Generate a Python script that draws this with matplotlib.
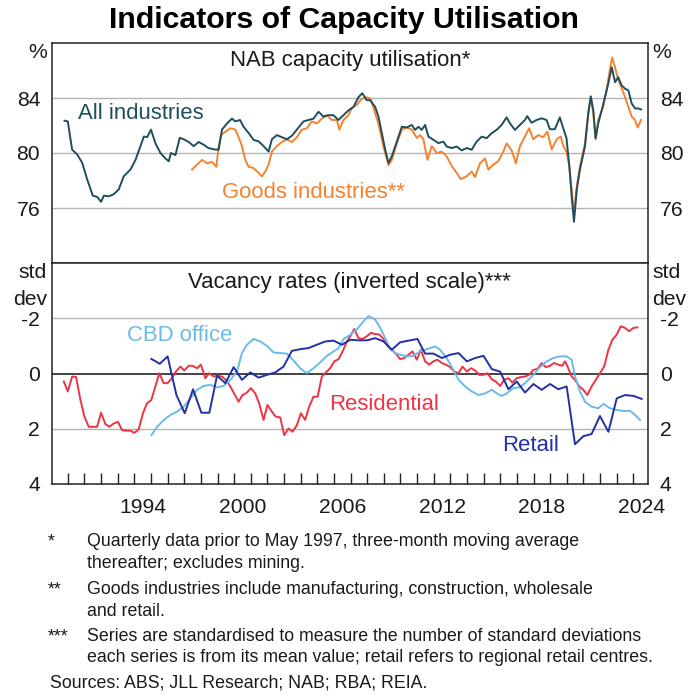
import matplotlib
matplotlib.use("Agg")
import matplotlib.pyplot as plt
from matplotlib.ticker import FixedLocator, NullFormatter

plt.rcParams["font.family"] = ["Liberation Sans", "DejaVu Sans"]

# ---------------------------------------------------------------------------
# Data
# ---------------------------------------------------------------------------

# NAB capacity utilisation, all industries (%)
all_years = [1989.8, 1990.0, 1990.26, 1990.56, 1990.86, 1991.16, 1991.5, 1991.77,
             1992.0, 1992.17, 1992.46, 1992.76, 1993.06, 1993.36, 1993.77, 1994.07,
             1994.37, 1994.57, 1994.77, 1995.0, 1995.27, 1995.57, 1995.87, 1996.07,
             1996.2, 1996.47, 1996.73, 1996.97, 1997.27, 1997.57, 1997.87, 1998.17,
             1998.47, 1998.87, 1999.07, 1999.27, 1999.57, 1999.87, 2000.07, 2000.35,
             2000.57, 2000.87, 2001.17, 2001.47, 2001.77, 2002.07, 2002.27, 2002.57,
             2002.87, 2003.17, 2003.47, 2003.77, 2004.17, 2004.47, 2004.77, 2005.07,
             2005.37, 2005.67, 2005.97, 2006.27, 2006.57, 2006.87, 2007.17, 2007.47,
             2007.7, 2007.96, 2008.18, 2008.48, 2008.68, 2008.88, 2009.08, 2009.28,
             2009.48, 2009.68, 2009.88, 2010.08, 2010.38, 2010.68, 2010.88, 2011.08,
             2011.28, 2011.48, 2011.68, 2011.98, 2012.28, 2012.58, 2012.78, 2013.08,
             2013.38, 2013.68, 2013.98, 2014.28, 2014.58, 2014.88, 2015.18, 2015.48,
             2015.78, 2016.08, 2016.38, 2016.58, 2016.88, 2017.18, 2017.48, 2017.62,
             2017.88, 2018.18, 2018.48, 2018.78, 2018.98, 2019.28, 2019.58, 2019.78,
             2019.98, 2020.15, 2020.29, 2020.43, 2020.6, 2020.79, 2021.09, 2021.29,
             2021.44, 2021.59, 2021.73, 2021.89, 2022.1, 2022.29, 2022.49, 2022.7,
             2022.9, 2023.09, 2023.3, 2023.5, 2023.7, 2023.9, 2024.1, 2024.3, 2024.46]
all_values = [82.35, 82.3, 80.24, 79.9, 79.3, 78.1, 76.9, 76.8,
              76.45, 76.9, 76.85, 77.0, 77.35, 78.3, 78.8, 79.5,
              80.5, 81.2, 81.15, 81.7, 80.7, 80.0, 79.6, 79.4,
              80.0, 79.85, 81.1, 81.0, 80.8, 80.5, 80.8, 80.6,
              80.35, 80.25, 80.25, 81.7, 82.15, 82.5, 82.3, 82.4,
              81.9, 81.45, 80.95, 80.85, 80.5, 80.1, 81.0, 81.3,
              81.15, 81.0, 81.25, 81.7, 82.3, 82.4, 82.5, 83.0,
              82.65, 82.75, 82.75, 82.4, 82.75, 83.1, 83.35, 84.05,
              84.35, 83.85, 83.83, 83.35, 82.63, 81.44, 80.24, 79.28,
              79.76, 80.47, 81.19, 81.91, 81.86, 82.04, 81.68, 81.91,
              81.68, 82.04, 81.19, 80.96, 80.72, 80.83, 80.47, 80.36,
              80.47, 80.19, 80.36, 80.24, 80.83, 81.19, 81.08, 81.44,
              81.68, 82.04, 82.59, 82.16, 81.68, 82.04, 82.4, 82.68,
              82.2, 82.4, 82.52, 82.4, 81.73, 81.73, 82.59, 81.8,
              81.08, 79.04, 76.88, 75.0, 77.36, 78.8, 80.47, 82.88,
              84.12, 83.12, 81.08, 82.16, 83.12, 84.07, 85.04, 86.23,
              85.15, 85.51, 84.91, 84.68, 84.55, 83.6, 83.24, 83.24, 83.17]

# NAB capacity utilisation, goods industries (%)
goods_years = [1997.47, 1997.77, 1998.07, 1998.37, 1998.67, 1998.93, 1999.07, 1999.21,
               1999.47, 1999.77, 2000.07, 2000.27, 2000.47, 2000.67, 2000.87, 2001.17,
               2001.47, 2001.67, 2001.87, 2002.07, 2002.27, 2002.57, 2002.87, 2003.17,
               2003.47, 2003.77, 2004.07, 2004.37, 2004.67, 2004.97, 2005.27, 2005.57,
               2005.87, 2006.17, 2006.33, 2006.57, 2006.87, 2007.07, 2007.37, 2007.67,
               2008.0, 2008.2, 2008.36, 2008.67, 2008.97, 2009.28, 2009.48, 2009.78,
               2010.08, 2010.38, 2010.68, 2010.98, 2011.18, 2011.38, 2011.62, 2011.88,
               2012.18, 2012.48, 2012.78, 2013.08, 2013.38, 2013.62, 2013.98, 2014.28,
               2014.48, 2014.78, 2015.08, 2015.28, 2015.58, 2015.88, 2016.18, 2016.38,
               2016.68, 2016.94, 2017.18, 2017.48, 2017.74, 2017.98, 2018.28, 2018.58,
               2018.83, 2019.09, 2019.39, 2019.63, 2019.79, 2019.98, 2020.15, 2020.29,
               2020.43, 2020.6, 2020.79, 2021.09, 2021.29, 2021.44, 2021.59, 2021.73,
               2021.89, 2022.18, 2022.39, 2022.59, 2022.73, 2022.9, 2023.1, 2023.3,
               2023.5, 2023.7, 2023.9, 2024.1, 2024.26, 2024.46]
goods_values = [78.8, 79.15, 79.5, 79.25, 79.35, 79.0, 80.5, 81.3,
                81.55, 81.8, 81.7, 81.15, 80.5, 79.5, 79.0, 78.9,
                78.55, 78.3, 78.65, 79.15, 80.1, 80.5, 80.8, 81.0,
                80.8, 81.15, 81.7, 81.8, 82.3, 82.15, 82.5, 82.75,
                82.4, 82.4, 81.7, 82.4, 82.75, 83.25, 83.5, 83.95,
                84.05, 83.95, 83.35, 82.15, 80.5, 79.1, 79.5, 80.7,
                81.7, 81.85, 81.7, 81.1, 81.3, 81.0, 79.5, 80.5,
                80.0, 80.1, 79.75, 79.05, 78.55, 78.1, 78.3, 78.65,
                78.25, 79.25, 79.6, 78.8, 79.15, 79.4, 80.1, 80.7,
                80.2, 79.25, 80.5, 81.2, 81.8, 81.0, 81.3, 81.15,
                81.55, 80.25, 81.0, 81.2, 80.5, 80.1, 79.05, 77.35,
                75.55, 77.6, 79.05, 80.7, 82.9, 84.05, 82.9, 81.0,
                82.4, 83.35, 84.55, 86.1, 86.95, 86.2, 85.3, 84.7,
                84.05, 83.35, 82.65, 82.4, 81.85, 82.4]

# Vacancy rates, standardised (std dev, inverted scale)
resid_years = [1989.76, 1990.0, 1990.26, 1990.5, 1990.76, 1991.0, 1991.26, 1991.5,
               1991.76, 1992.0, 1992.26, 1992.5, 1992.76, 1993.02, 1993.26, 1993.52,
               1993.76, 1994.0, 1994.26, 1994.52, 1994.76, 1995.02, 1995.26, 1995.5,
               1995.76, 1996.0, 1996.26, 1996.5, 1996.77, 1997.0, 1997.27, 1997.5,
               1997.77, 1998.0, 1998.27, 1998.5, 1998.77, 1999.0, 1999.27, 1999.5,
               1999.77, 2000.0, 2000.27, 2000.5, 2000.77, 2001.0, 2001.27, 2001.5,
               2001.77, 2002.0, 2002.27, 2002.5, 2002.77, 2003.01, 2003.27, 2003.51,
               2003.77, 2004.01, 2004.27, 2004.51, 2004.77, 2005.02, 2005.27, 2005.52,
               2005.77, 2006.02, 2006.28, 2006.52, 2006.78, 2006.98, 2007.22, 2007.48,
               2007.72, 2007.98, 2008.22, 2008.48, 2008.72, 2008.98, 2009.22, 2009.48,
               2009.72, 2009.98, 2010.22, 2010.48, 2010.72, 2010.98, 2011.22, 2011.48,
               2011.72, 2011.98, 2012.22, 2012.48, 2012.73, 2012.99, 2013.23, 2013.49,
               2013.73, 2013.99, 2014.23, 2014.49, 2014.73, 2014.99, 2015.23, 2015.49,
               2015.73, 2015.99, 2016.23, 2016.49, 2016.73, 2016.99, 2017.23, 2017.49,
               2017.73, 2017.99, 2018.23, 2018.49, 2018.73, 2018.99, 2019.23, 2019.49,
               2019.73, 2019.89, 2020.09, 2020.29, 2020.49, 2020.73, 2020.99, 2021.23,
               2021.49, 2021.74, 2021.99, 2022.24, 2022.5, 2022.74, 2023.0, 2023.24,
               2023.5, 2023.74, 2024.0, 2024.24]
resid_values = [0.29, 0.65, 0.11, 0.13, 0.96, 1.56, 1.93, 1.93,
                1.93, 1.42, 1.83, 1.93, 1.81, 1.75, 2.05, 2.07,
                2.07, 2.15, 2.02, 1.44, 1.08, 0.96, 0.47, -0.01,
                0.35, 0.35, 0.17, -0.07, -0.25, -0.11, -0.28, -0.28,
                -0.19, -0.32, 0.17, -0.01, 0.11, 0.08, 0.11, 0.23,
                0.47, 0.72, 1.02, 0.78, 0.69, 0.53, 0.72, 1.08,
                1.68, 1.14, 1.38, 1.56, 1.59, 2.23, 1.99, 2.11,
                1.87, 1.44, 1.68, 1.2, 0.84, 0.84, 0.11, -0.04,
                -0.19, -0.44, -0.52, -0.8, -1.16, -1.35, -1.61, -1.28,
                -1.25, -1.35, -1.47, -1.43, -1.41, -1.25, -1.0, -0.86,
                -0.72, -0.52, -0.56, -0.68, -0.8, -0.5, -0.86, -0.44,
                -0.32, -0.44, -0.5, -0.38, -0.32, -0.23, -0.07, -0.01,
                -0.25, -0.07, -0.19, -0.11, 0.05, 0.05, -0.01, 0.21,
                0.29, 0.45, 0.23, 0.17, 0.33, 0.17, 0.13, 0.11,
                0.05, -0.13, -0.16, -0.38, -0.23, -0.28, -0.38, -0.32,
                -0.28, -0.44, -0.19, 0.11, 0.23, 0.45, 0.59, 0.78,
                0.47, 0.23, -0.01, -0.25, -0.86, -1.22, -1.41, -1.71,
                -1.65, -1.53, -1.65, -1.67]

retail_years = [1995.02, 1995.53, 1996.0, 1996.53, 1997.03, 1997.53, 1998.03, 1998.51,
                1998.97, 1999.47, 1999.97, 2000.47, 2000.97, 2001.47, 2001.97, 2002.47,
                2002.97, 2003.47, 2003.97, 2004.47, 2004.97, 2005.48, 2005.98, 2006.48,
                2006.98, 2007.48, 2007.98, 2008.48, 2008.98, 2009.48, 2009.98, 2010.48,
                2011.02, 2011.48, 2011.98, 2012.49, 2012.99, 2013.49, 2013.99, 2014.49,
                2014.99, 2015.49, 2015.99, 2016.49, 2016.99, 2017.49, 2017.99, 2018.49,
                2018.99, 2019.49, 2019.99, 2020.49, 2020.99, 2021.49, 2021.99, 2022.5,
                2023.0, 2023.5, 2024.0, 2024.5]
retail_values = [-0.53, -0.35, -0.62, 0.78, 1.44, 0.57, 1.42, 1.42,
                 0.08, 0.35, -0.23, 0.23, -0.04, 0.15, 0.05, -0.04,
                 -0.25, -0.82, -0.88, -0.92, -1.04, -1.16, -1.19, -1.04,
                 -1.22, -1.2, -1.2, -1.28, -1.16, -0.86, -1.13, -1.19,
                 -1.25, -0.72, -0.72, -0.56, -0.68, -0.74, -0.44, -0.56,
                 -0.64, -0.16, -0.07, 0.57, 0.29, 0.69, 0.38, 0.59,
                 0.38, 0.57, 0.47, 2.56, 2.27, 2.19, 1.54, 2.11,
                 0.9, 0.78, 0.81, 0.92]

cbd_years = [1995.03, 1995.37, 1995.77, 1996.17, 1996.57, 1996.97, 1997.37, 1997.77,
             1998.17, 1998.57, 1998.97, 1999.37, 1999.77, 2000.17, 2000.47, 2000.77,
             2001.17, 2001.57, 2001.97, 2002.37, 2002.77, 2003.17, 2003.57, 2003.97,
             2004.37, 2004.77, 2005.17, 2005.58, 2005.98, 2006.28, 2006.58, 2006.98,
             2007.38, 2007.78, 2008.08, 2008.48, 2008.78, 2009.08, 2009.38, 2009.68,
             2009.98, 2010.38, 2010.78, 2011.18, 2011.58, 2012.08, 2012.38, 2012.78,
             2013.18, 2013.49, 2013.89, 2014.29, 2014.69, 2015.09, 2015.49, 2015.79,
             2016.09, 2016.39, 2016.79, 2017.19, 2017.59, 2017.99, 2018.39, 2018.79,
             2019.19, 2019.59, 2019.99, 2020.29, 2020.49, 2020.79, 2021.09, 2021.49,
             2021.89, 2022.2, 2022.6, 2023.0, 2023.4, 2023.8, 2024.1, 2024.4]
cbd_values = [2.23, 1.93, 1.68, 1.5, 1.38, 1.2, 0.9, 0.59,
              0.45, 0.41, 0.5, 0.45, 0.23, -0.07, -0.74, -1.04,
              -1.25, -1.16, -1.0, -0.76, -0.74, -0.72, -0.47, -0.19,
              -0.01, -0.19, -0.4, -0.64, -0.8, -0.92, -1.25, -1.4,
              -1.6, -1.89, -2.08, -1.95, -1.65, -1.28, -0.88, -0.74,
              -0.68, -0.62, -0.64, -0.8, -0.88, -0.98, -0.86, -0.56,
              -0.13, 0.23, 0.47, 0.65, 0.78, 0.72, 0.59, 0.72,
              0.81, 0.72, 0.53, 0.5, 0.29, 0.05, -0.23, -0.44,
              -0.56, -0.62, -0.62, -0.5, 0.11, 0.65, 1.02, 1.2,
              1.26, 1.1, 1.26, 1.32, 1.36, 1.35, 1.5, 1.68]

year_labels = [1994, 2000, 2006, 2012, 2018, 2024]

# ---------------------------------------------------------------------------
# Styling
# ---------------------------------------------------------------------------

TEAL   = "#1d4f5c"
ORANGE = "#f5822f"
RED    = "#ee3344"
NAVY   = "#2331a3"
SKY    = "#6bbbe8"
GRID   = "#b4b4b4"
TXT    = "#1a1a1a"
LW     = 1.4
FS     = 15.2     # tick labels
FL     = 15.9     # in-panel labels
FN     = 12.8     # footnotes

W, H = 688, 695
fig = plt.figure(figsize=(W / 100, H / 100), dpi=100)


def fx(px):
    return px / W


def fy(py):
    return 1 - py / H


ax1 = fig.add_axes([fx(52), fy(263), fx(596), 220 / H])
ax2 = fig.add_axes([fx(52), fy(484), fx(596), 221 / H], sharex=ax1)

XLIM = (1989.05, 2024.88)

for ax in (ax1, ax2):
    for s in ax.spines.values():
        s.set_color("#222222")
        s.set_linewidth(1.1)
    ax.tick_params(axis="y", left=False, right=False, labelleft=True,
                   labelright=True, labelsize=FS, colors=TXT, pad=5)

# --- top panel ------------------------------------------------------------
ax1.set_ylim(72, 88)
ax1.set_yticks([76, 80, 84])
for v in (76, 80, 84):
    ax1.axhline(v, color=GRID, lw=1.0, zorder=1)
ax1.plot(goods_years, goods_values, color=ORANGE, lw=LW, zorder=3)
ax1.plot(all_years, all_values, color=TEAL, lw=LW, zorder=4)

ax1.text(2006.98, 86.7, "NAB capacity utilisation*", ha="center", va="center",
         fontsize=FL, color=TXT)
ax1.text(1990.64, 82.86, "All industries", ha="left", va="center",
         fontsize=FL, color=TEAL)
ax1.text(1999.27, 77.14, "Goods industries**", ha="left", va="center",
         fontsize=FL, color=ORANGE)

# --- bottom panel ---------------------------------------------------------
ax2.set_ylim(4, -4)
ax2.set_yticks([-2, 0, 2, 4])
ax2.set_yticklabels(["-2", "0", "2", "4"])
for v in (-2, 2):
    ax2.axhline(v, color=GRID, lw=1.0, zorder=1)
ax2.axhline(0, color="#111111", lw=1.1, zorder=2)
ax2.plot(resid_years, resid_values, color=RED, lw=LW, zorder=3)
ax2.plot(cbd_years, cbd_values, color=SKY, lw=LW, zorder=4)
ax2.plot(retail_years, retail_values, color=NAVY, lw=LW, zorder=5)

ax2.text(2006.92, -3.3, "Vacancy rates (inverted scale)***", ha="center",
         va="center", fontsize=FL, color=TXT)
ax2.text(1993.57, -1.37, "CBD office", ha="left", va="center",
         fontsize=FL, color=SKY)
ax2.text(2005.7, 1.14, "Residential", ha="left", va="center",
         fontsize=FL, color=RED)
ax2.text(2016.1, 2.59, "Retail", ha="left", va="center",
         fontsize=FL, color=NAVY)

# year ticks at year starts, labels mid-year
ax2.set_xlim(*XLIM)
ax2.xaxis.set_major_locator(FixedLocator(list(range(1990, 2025))))
ax2.xaxis.set_major_formatter(NullFormatter())
ax2.xaxis.set_minor_locator(FixedLocator([y + 0.5 for y in year_labels]))
ax2.set_xticklabels([str(y) for y in year_labels], minor=True)
ax2.tick_params(axis="x", which="major", direction="in", length=8,
                width=1.0, color="#222222", top=False)
ax2.tick_params(axis="x", which="minor", length=0, labelsize=FS,
                colors=TXT, pad=10)
ax1.tick_params(axis="x", which="both", bottom=False, top=False,
                labelbottom=False, labeltop=False)

# unit labels
for x, ha in ((fx(47), "right"), (fx(652), "left")):
    fig.text(x, fy(53), "%", ha=ha, va="center", fontsize=FS, color=TXT)
    fig.text(x, fy(273), "std", ha=ha, va="center", fontsize=FS, color=TXT)
    fig.text(x, fy(299), "dev", ha=ha, va="center", fontsize=FS, color=TXT)

# title
fig.text(0.5, fy(20), "Indicators of Capacity Utilisation", ha="center",
         va="center", fontsize=21.8, fontweight="bold", color="#000000")

# footnotes
notes = [
    ("*", "Quarterly data prior to May 1997, three-month moving average", 541.7),
    ("", "thereafter; excludes mining.", 563.3),
    ("**", "Goods industries include manufacturing, construction, wholesale", 590.0),
    ("", "and retail.", 611.7),
    ("***", "Series are standardised to measure the number of standard deviations", 636.7),
    ("", "each series is from its mean value; retail refers to regional retail centres.", 657.8),
]
for mark, text, y in notes:
    if mark:
        fig.text(fx(48), fy(y), mark, ha="left", va="center", fontsize=FN, color=TXT)
    fig.text(fx(87), fy(y), text, ha="left", va="center", fontsize=FN, color=TXT)
fig.text(fx(50), fy(683.5), "Sources: ABS; JLL Research; NAB; RBA; REIA.",
         ha="left", va="center", fontsize=FN, color=TXT)

fig.savefig("out.png", dpi=100)
